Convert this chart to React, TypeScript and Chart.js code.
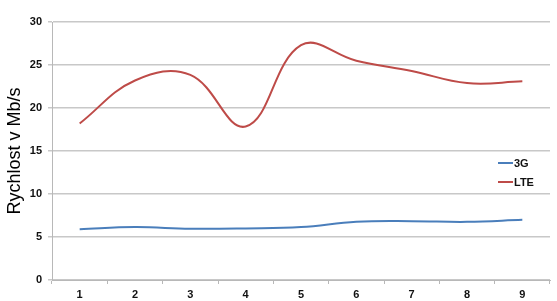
import React, { useEffect, useRef } from "react";
import { Chart, registerables } from "chart.js";

Chart.register(...registerables);

const categories = ["1", "2", "3", "4", "5", "6", "7", "8", "9"];
const series3G = [5.9, 6.15, 5.96, 6.0, 6.15, 6.76, 6.84, 6.76, 7.0];
const seriesLTE = [18.2, 23.2, 23.85, 17.85, 27.3, 25.5, 24.3, 22.9, 23.1];
const yTicks = [0, 5, 10, 15, 20, 25, 30];
const yTitle = "Rychlost v Mb/s";

const legendPlugin = {
  id: "insideLegend",
  afterDraw(chart: any) {
    const ctx = chart.ctx;
    const ds = chart.data.datasets;
    ctx.save();
    ctx.font = "bold 11px 'Liberation Sans', Arial, sans-serif";
    ctx.textBaseline = "middle";
    ctx.textAlign = "left";
    ds.forEach((d: any, i: number) => {
      const y = 163 + i * 19;
      ctx.strokeStyle = d.borderColor;
      ctx.lineWidth = 2;
      ctx.beginPath();
      ctx.moveTo(498, y);
      ctx.lineTo(513, y);
      ctx.stroke();
      ctx.fillStyle = "#111";
      ctx.fillText(d.label, 514, y + 0.5);
    });
    ctx.restore();
  },
};

export default function App() {
  const ref = useRef<HTMLCanvasElement>(null);
  useEffect(() => {
    document.body.style.margin = "0";
    const chart = new Chart(ref.current!, {
      type: "line",
      data: {
        labels: categories,
        datasets: [
          {
            label: "3G",
            data: series3G,
            borderColor: "#4a7ebb",
            borderWidth: 2,
            pointRadius: 0,
            tension: 0.4,
            fill: false,
          },
          {
            label: "LTE",
            data: seriesLTE,
            borderColor: "#be4b48",
            borderWidth: 2,
            pointRadius: 0,
            tension: 0.4,
            fill: false,
          },
        ],
      },
      options: {
        animation: false,
        responsive: false,
        layout: { padding: { top: 22, right: 7, left: 0, bottom: 0 } },
        plugins: { legend: { display: false }, tooltip: { enabled: false } },
        scales: {
          x: {
            offset: true,
            grid: {
              offset: true,
              drawOnChartArea: false,
              drawTicks: true,
              tickLength: 4,
              color: "#b8b8b8",
            },
            border: { color: "#b8b8b8", width: 1 },
            ticks: {
              color: "#111",
              padding: 4,
              font: { family: "'Liberation Sans', Arial, sans-serif", size: 11, weight: "bold" },
            },
            afterFit(scale: any) {
              scale.height = 21;
            },
          },
          y: {
            min: 0,
            max: 30,
            afterBuildTicks(scale: any) {
              scale.ticks = yTicks.map((v) => ({ value: v }));
            },
            grid: {
              color: "#c8c8c8",
              lineWidth: 1.5,
              tickLength: 4,
            },
            border: { color: "#b8b8b8", width: 1 },
            ticks: {
              color: "#111",
              padding: 6,
              font: { family: "'Liberation Sans', Arial, sans-serif", size: 11, weight: "bold" },
            },
            title: {
              display: true,
              text: yTitle,
              color: "#000",
              padding: { top: 4, bottom: 0 },
              font: { family: "'Liberation Sans', Arial, sans-serif", size: 18 },
            },
            afterFit(scale: any) {
              scale.width = 52;
            },
          },
        },
      },
      plugins: [legendPlugin],
    });
    return () => chart.destroy();
  }, []);
  return (
    <div style={{ width: 557, height: 301 }}>
      <canvas ref={ref} width={557} height={301} style={{ display: "block" }} />
    </div>
  );
}
